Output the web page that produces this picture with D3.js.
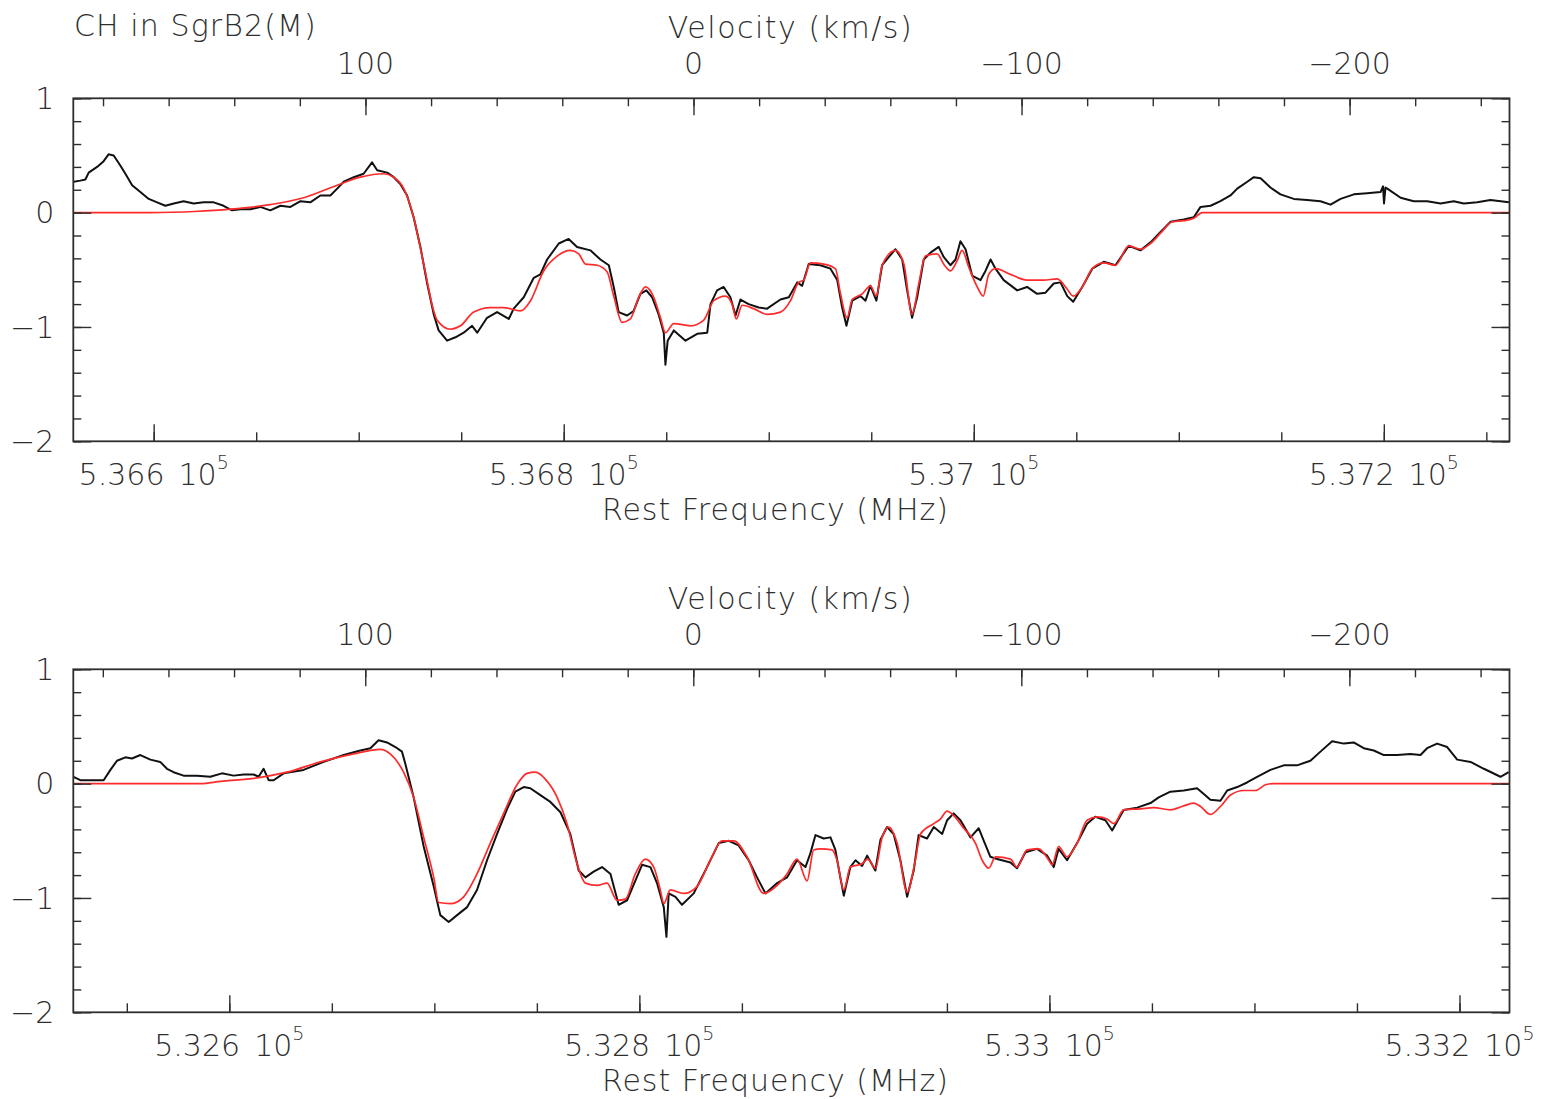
<!DOCTYPE html>
<html>
<head>
<meta charset="utf-8">
<script src="https://cdn.jsdelivr.net/npm/d3@7"></script>
<style>
  body { margin: 0; background: #fff; }
</style>
</head>
<body>
<svg id="chart" width="1550" height="1099"></svg>
<script>
// Observed spectrum (black) and model fit (red), [rest frequency MHz, intensity]
const upperObs = [[536561.0,0.27],[536564.2,0.28],[536566.7,0.29],[536568.3,0.35],[536572.4,0.40],[536575.6,0.45],[536578.0,0.51],[536580.5,0.50],[536583.8,0.41],[536586.2,0.34],[536589.5,0.24],[536593.5,0.18],[536597.6,0.12],[536601.7,0.09],[536605.7,0.06],[536609.8,0.08],[536614.6,0.10],[536619.5,0.08],[536624.4,0.09],[536629.3,0.09],[536634.1,0.06],[536638.2,0.02],[536642.3,0.03],[536647.2,0.03],[536652.0,0.05],[536656.9,0.02],[536661.8,0.06],[536666.7,0.05],[536671.6,0.10],[536676.4,0.09],[536681.3,0.15],[536686.2,0.15],[536689.5,0.21],[536692.7,0.27],[536697.6,0.31],[536702.4,0.34],[536706.5,0.44],[536709.0,0.37],[536713.9,0.35],[536717.1,0.31],[536720.3,0.25],[536723.6,0.15],[536726.8,-0.04],[536730.1,-0.30],[536733.4,-0.62],[536736.6,-0.89],[536739.0,-1.03],[536743.1,-1.12],[536747.2,-1.09],[536751.2,-1.05],[536755.3,-0.99],[536757.8,-1.05],[536762.6,-0.92],[536767.5,-0.87],[536773.2,-0.93],[536775.6,-0.84],[536780.5,-0.74],[536785.4,-0.57],[536788.6,-0.54],[536791.9,-0.41],[536797.6,-0.27],[536802.4,-0.23],[536806.5,-0.30],[536813.0,-0.33],[536817.9,-0.41],[536822.0,-0.46],[536824.4,-0.65],[536826.8,-0.87],[536830.9,-0.90],[536834.1,-0.86],[536837.4,-0.71],[536840.3,-0.68],[536843.1,-0.74],[536846.3,-0.89],[536848.8,-1.05],[536849.6,-1.33],[536850.7,-1.12],[536853.7,-1.03],[536859.4,-1.12],[536865.1,-1.06],[536870.0,-1.05],[536871.6,-0.80],[536874.8,-0.68],[536878.0,-0.65],[536881.3,-0.74],[536883.8,-0.90],[536886.2,-0.76],[536890.2,-0.80],[536895.1,-0.83],[536899.2,-0.84],[536905.7,-0.76],[536909.8,-0.74],[536913.9,-0.61],[536916.3,-0.64],[536919.5,-0.45],[536925.2,-0.46],[536930.1,-0.49],[536933.4,-0.59],[536935.8,-0.83],[536937.9,-0.99],[536940.7,-0.77],[536944.7,-0.73],[536947.2,-0.77],[536949.6,-0.64],[536952.5,-0.77],[536955.3,-0.46],[536958.5,-0.39],[536961.8,-0.32],[536965.1,-0.41],[536967.5,-0.68],[536969.9,-0.92],[536972.4,-0.74],[536975.6,-0.41],[536978.9,-0.35],[536982.9,-0.30],[536985.4,-0.39],[536988.6,-0.46],[536991.1,-0.41],[536993.5,-0.25],[536996.0,-0.32],[536999.2,-0.55],[537003.3,-0.59],[537005.7,-0.51],[537008.2,-0.41],[537010.6,-0.49],[537014.6,-0.59],[537021.2,-0.68],[537026.0,-0.65],[537030.9,-0.71],[537035.0,-0.70],[537039.0,-0.62],[537042.3,-0.61],[537045.6,-0.73],[537048.5,-0.78],[537052.9,-0.65],[537057.8,-0.49],[537063.4,-0.43],[537069.1,-0.46],[537075.6,-0.29],[537081.3,-0.33],[537086.2,-0.26],[537091.1,-0.17],[537096.0,-0.08],[537102.4,-0.06],[537107.3,-0.04],[537110.6,0.05],[537115.5,0.06],[537120.3,0.10],[537125.2,0.15],[537128.5,0.21],[537133.4,0.27],[537136.6,0.31],[537139.9,0.30],[537144.7,0.22],[537149.6,0.16],[537156.1,0.12],[537162.6,0.11],[537169.1,0.10],[537174.0,0.07],[537178.9,0.12],[537185.4,0.16],[537191.9,0.17],[537198.4,0.18],[537199.6,0.23],[537200.1,0.08],[537200.8,0.22],[537201.7,0.21],[537208.2,0.13],[537214.6,0.10],[537221.2,0.10],[537227.7,0.08],[537234.1,0.10],[537239.0,0.08],[537245.6,0.09],[537252.0,0.11],[537261.0,0.09]];

const upperFit = [[536560.8,0.0],[536598.4,0.0],[536620.0,0.01],[536637.4,0.03],[536656.9,0.07],[536673.2,0.13],[536689.5,0.24],[536700.8,0.31],[536712.2,0.34],[536717.1,0.31],[536722.0,0.21],[536726.8,-0.04],[536731.7,-0.45],[536736.6,-0.86],[536738.2,-0.94],[536744.7,-1.02],[536749.6,-0.99],[536756.1,-0.87],[536764.2,-0.83],[536770.7,-0.83],[536778.9,-0.86],[536783.8,-0.77],[536790.2,-0.51],[536796.8,-0.38],[536803.3,-0.33],[536807.3,-0.36],[536810.6,-0.45],[536816.3,-0.46],[536821.2,-0.52],[536824.4,-0.73],[536828.5,-0.96],[536832.5,-0.93],[536836.6,-0.74],[536839.9,-0.65],[536843.9,-0.74],[536847.2,-0.92],[536849.6,-1.05],[536853.7,-0.97],[536861.8,-0.99],[536868.3,-0.94],[536873.2,-0.77],[536878.9,-0.73],[536882.1,-0.80],[536884.2,-0.93],[536887.0,-0.81],[536892.7,-0.84],[536899.2,-0.89],[536905.7,-0.87],[536910.6,-0.77],[536914.6,-0.61],[536917.1,-0.59],[536920.3,-0.44],[536926.8,-0.45],[536932.5,-0.49],[536935.0,-0.71],[536938.2,-0.92],[536940.7,-0.76],[536945.6,-0.71],[536949.6,-0.64],[536952.5,-0.73],[536955.3,-0.46],[536961.8,-0.33],[536965.9,-0.45],[536969.9,-0.89],[536973.2,-0.62],[536976.4,-0.38],[536982.1,-0.36],[536985.7,-0.46],[536988.6,-0.51],[536991.9,-0.42],[536994.3,-0.33],[536997.6,-0.48],[537001.7,-0.65],[537004.6,-0.73],[537007.3,-0.54],[537010.6,-0.49],[537017.9,-0.54],[537026.0,-0.59],[537034.1,-0.59],[537040.7,-0.58],[537045.6,-0.67],[537048.5,-0.73],[537052.9,-0.65],[537057.8,-0.49],[537063.4,-0.44],[537069.1,-0.46],[537075.6,-0.29],[537081.3,-0.32],[537086.2,-0.27],[537091.1,-0.18],[537096.8,-0.08],[537102.4,-0.07],[537107.3,-0.05],[537111.4,0.0],[537261.3,0.0]];

const lowerObs = [[532524.0,0.06],[532527.3,0.03],[532532.2,0.03],[532538.7,0.03],[532542.0,0.12],[532545.2,0.20],[532549.3,0.23],[532552.5,0.22],[532556.6,0.25],[532561.5,0.21],[532566.3,0.19],[532569.6,0.13],[532572.8,0.10],[532577.7,0.07],[532584.2,0.07],[532590.7,0.06],[532596.4,0.09],[532602.1,0.07],[532607.0,0.08],[532611.9,0.08],[532614.3,0.06],[532616.7,0.13],[532619.2,0.03],[532621.6,0.03],[532626.5,0.09],[532636.2,0.12],[532646.0,0.19],[532655.8,0.25],[532663.9,0.29],[532668.8,0.31],[532672.8,0.38],[532676.9,0.36],[532681.0,0.32],[532684.2,0.28],[532685.9,0.17],[532689.9,-0.12],[532694.8,-0.55],[532699.7,-0.90],[532702.9,-1.15],[532707.0,-1.21],[532711.1,-1.15],[532716.0,-1.08],[532720.8,-0.93],[532725.7,-0.67],[532730.6,-0.44],[532735.5,-0.22],[532739.5,-0.07],[532743.6,-0.03],[532746.8,-0.04],[532751.7,-0.10],[532756.6,-0.16],[532761.5,-0.25],[532766.3,-0.44],[532770.4,-0.76],[532773.7,-0.82],[532777.7,-0.77],[532781.8,-0.73],[532785.9,-0.79],[532789.9,-1.06],[532794.0,-1.02],[532798.0,-0.85],[532801.3,-0.71],[532805.4,-0.73],[532808.6,-0.87],[532811.9,-1.08],[532813.2,-1.34],[532814.3,-0.96],[532817.6,-0.99],[532820.8,-1.06],[532826.5,-0.96],[532833.0,-0.73],[532838.7,-0.52],[532843.6,-0.50],[532848.4,-0.54],[532853.3,-0.67],[532857.4,-0.82],[532861.5,-0.96],[532867.2,-0.87],[532872.0,-0.82],[532876.9,-0.67],[532881.0,-0.73],[532883.4,-0.61],[532885.9,-0.45],[532889.9,-0.48],[532893.2,-0.47],[532895.6,-0.58],[532898.0,-0.82],[532899.7,-0.98],[532902.9,-0.73],[532905.4,-0.67],[532908.6,-0.72],[532911.1,-0.63],[532915.1,-0.76],[532917.6,-0.49],[532920.8,-0.38],[532924.0,-0.44],[532927.3,-0.67],[532930.6,-0.99],[532933.8,-0.76],[532936.2,-0.45],[532940.3,-0.48],[532943.6,-0.38],[532947.7,-0.44],[532950.1,-0.32],[532953.3,-0.26],[532956.6,-0.32],[532961.5,-0.47],[532965.5,-0.39],[532968.0,-0.50],[532971.2,-0.64],[532974.5,-0.66],[532981.0,-0.69],[532984.2,-0.74],[532988.3,-0.60],[532994.0,-0.57],[532998.9,-0.63],[533002.1,-0.73],[533004.5,-0.57],[533008.6,-0.67],[533013.5,-0.52],[533018.4,-0.35],[533022.4,-0.29],[533027.3,-0.32],[533030.6,-0.41],[533036.2,-0.23],[533042.8,-0.21],[533049.3,-0.17],[533053.3,-0.12],[533059.0,-0.07],[533065.5,-0.06],[533072.0,-0.04],[533075.3,-0.09],[533078.5,-0.14],[533083.4,-0.15],[533086.7,-0.06],[533091.6,-0.03],[533096.4,0.01],[533101.3,0.06],[533107.8,0.12],[533114.3,0.16],[533120.8,0.16],[533127.3,0.20],[533132.2,0.28],[533137.9,0.37],[533143.6,0.35],[533148.4,0.36],[533153.3,0.31],[533158.2,0.29],[533163.1,0.25],[533169.6,0.25],[533176.1,0.26],[533181.0,0.25],[533184.2,0.31],[533189.1,0.35],[533194.0,0.32],[533198.9,0.21],[533205.4,0.19],[533211.9,0.13],[533220.0,0.06],[533224.0,0.10]];

const lowerFit = [[532523.9,0.0],[532585.9,0.0],[532595.6,0.02],[532613.5,0.05],[532628.1,0.10],[532644.4,0.19],[532660.6,0.26],[532673.7,0.30],[532678.5,0.26],[532685.0,0.10],[532689.9,-0.12],[532694.8,-0.47],[532699.7,-0.82],[532702.1,-1.04],[532707.8,-1.05],[532714.3,-0.99],[532720.8,-0.79],[532727.3,-0.52],[532733.8,-0.26],[532740.3,-0.01],[532745.2,0.09],[532749.3,0.10],[532754.1,0.04],[532759.9,-0.12],[532764.7,-0.35],[532769.6,-0.70],[532773.7,-0.87],[532779.4,-0.89],[532784.2,-0.87],[532789.1,-1.02],[532793.2,-1.01],[532798.0,-0.79],[532802.9,-0.66],[532807.0,-0.73],[532810.2,-0.93],[532811.9,-1.05],[532815.1,-0.93],[532821.6,-0.96],[532828.1,-0.90],[532834.6,-0.67],[532840.3,-0.50],[532846.0,-0.50],[532852.5,-0.64],[532860.6,-0.96],[532867.2,-0.89],[532872.0,-0.79],[532876.9,-0.66],[532881.8,-0.85],[532885.0,-0.58],[532888.3,-0.57],[532894.0,-0.58],[532896.4,-0.67],[532899.7,-0.93],[532902.9,-0.73],[532908.6,-0.70],[532911.4,-0.66],[532915.1,-0.74],[532918.4,-0.47],[532921.6,-0.38],[532925.7,-0.52],[532930.6,-0.95],[532934.6,-0.67],[532937.1,-0.44],[532943.6,-0.35],[532946.8,-0.31],[532950.1,-0.24],[532953.3,-0.28],[532958.2,-0.39],[532963.9,-0.52],[532967.2,-0.67],[532970.4,-0.74],[532973.7,-0.64],[532981.0,-0.66],[532984.2,-0.73],[532989.1,-0.58],[532994.8,-0.57],[532999.7,-0.67],[533001.3,-0.71],[533004.5,-0.55],[533008.6,-0.64],[533013.5,-0.52],[533018.4,-0.32],[533023.3,-0.29],[533028.1,-0.31],[533031.4,-0.35],[533036.2,-0.23],[533044.4,-0.22],[533050.9,-0.21],[533059.0,-0.23],[533064.7,-0.20],[533070.4,-0.17],[533073.7,-0.20],[533078.5,-0.27],[533083.4,-0.20],[533088.3,-0.10],[533094.8,-0.06],[533100.5,-0.06],[533105.4,-0.01],[533109.4,0.0],[533224.4,0.0]];

// axis ranges and labelled ticks
const upperFreqRange = [536560.8, 537261.3];
const lowerFreqRange = [532523.9, 533224.4];
const upperRestFreq = 536863.3;   // 0 km/s
const lowerRestFreq = 532826.3;
const kmsPerMHz = 0.625;
const upperFreqTicks = [536600, 536800, 537000, 537200];
const upperFreqLabels = ['5.366', '5.368', '5.37', '5.372'];
const lowerFreqTicks = [532600, 532800, 533000, 533200];
const lowerFreqLabels = ['5.326', '5.328', '5.33', '5.332'];
const velTicks = [100, 0, -100, -200];
const velLabels = ['100', '0', '\u2212100', '\u2212200'];
const yTicks = [1, 0, -1, -2];
const yLabels = ['1', '0', '\u22121', '\u22122'];

const panels = [
  { obs: upperObs, fit: upperFit, range: upperFreqRange, rest: upperRestFreq, fTicks: upperFreqTicks, fLabels: upperFreqLabels },
  { obs: lowerObs, fit: lowerFit, range: lowerFreqRange, rest: lowerRestFreq, fTicks: lowerFreqTicks, fLabels: lowerFreqLabels }
];

const plotLeft = 73.3, plotW = 1436.2, panelH = 343;
const panelTops = [98.3, 669.3];
const font = "'DejaVu Sans', sans-serif";
const ink = '#2e2e2e';

const svg = d3.select('#chart');

svg.append('text')
  .attr('x', 74).attr('y', 36)
  .attr('font-family', font).attr('font-size', 30).attr('font-weight', 300)
  .attr('letter-spacing', 1.1)
  .attr('fill', ink)
  .text('CH in SgrB2(M)');

panels.forEach((p, i) => {
  const g = svg.append('g').attr('transform', `translate(${plotLeft},${panelTops[i]})`);

  const x = d3.scaleLinear().domain(p.range).range([0, plotW]);
  const v = d3.scaleLinear()
    .domain(p.range.map(f => (p.rest - f) * kmsPerMHz))
    .range([0, plotW]);
  const y = d3.scaleLinear().domain([-2, 1]).range([panelH, 0]);

  const clipId = 'clip' + i;
  g.append('clipPath').attr('id', clipId)
    .append('rect').attr('width', plotW).attr('height', panelH);

  const line = d3.line().x(d => x(d[0])).y(d => y(d[1]));

  g.append('path')
    .datum(p.obs)
    .attr('clip-path', `url(#${clipId})`)
    .attr('fill', 'none')
    .attr('stroke', '#111')
    .attr('stroke-width', 2)
    .attr('stroke-linejoin', 'round')
    .attr('d', line);

  g.append('path')
    .datum(p.fit)
    .attr('clip-path', `url(#${clipId})`)
    .attr('fill', 'none')
    .attr('stroke', '#ff2a2a')
    .attr('stroke-width', 1.7)
    .attr('d', line.curve(d3.curveMonotoneX));

  // ticks drawn inward, PGPLOT style
  const ticks = (axis, vals, size) => axis.tickValues(vals).tickSize(size).tickSizeOuter(0).tickFormat('');
  const styleAxis = sel => {
    sel.select('.domain').remove();
    sel.selectAll('line').attr('stroke', ink).attr('stroke-width', 1.4);
  };

  const fMinor = d3.range(Math.ceil(p.range[0] / 50) * 50, p.range[1], 50);
  const vMinor = d3.range(-240, 181, 20);
  const yMinor = d3.range(-2, 1.001, 0.2).map(d => +d.toFixed(1));

  const bottom = g.append('g').attr('transform', `translate(0,${panelH})`);
  bottom.append('g').call(ticks(d3.axisBottom(x), fMinor, -9)).call(styleAxis);
  bottom.append('g').call(ticks(d3.axisBottom(x), p.fTicks, -17)).call(styleAxis);

  g.append('g').call(ticks(d3.axisTop(v), vMinor, -8)).call(styleAxis);
  g.append('g').call(ticks(d3.axisTop(v), velTicks, -17)).call(styleAxis);

  g.append('g').call(ticks(d3.axisLeft(y), yMinor, -8)).call(styleAxis);
  g.append('g').call(ticks(d3.axisLeft(y), yTicks, -18)).call(styleAxis);
  const right = g.append('g').attr('transform', `translate(${plotW},0)`);
  right.append('g').call(ticks(d3.axisRight(y), yMinor, -8)).call(styleAxis);
  right.append('g').call(ticks(d3.axisRight(y), yTicks, -18)).call(styleAxis);

  g.append('rect')
    .attr('width', plotW).attr('height', panelH)
    .attr('fill', 'none').attr('stroke', ink).attr('stroke-width', 1.8);

  const txt = sel => sel.attr('font-family', font).attr('font-weight', 300).attr('fill', ink);

  // frequency labels, e.g. "5.366 10^5"
  const fl = g.selectAll('.flab').data(p.fTicks).enter().append('text')
    .attr('class', 'flab')
    .attr('x', d => x(d)).attr('y', panelH + 44)
    .attr('text-anchor', 'middle').attr('font-size', 30)
    .call(txt);
  fl.append('tspan').text((d, k) => p.fLabels[k]);
  fl.append('tspan').attr('dx', 14).text('10');
  fl.append('tspan').attr('dy', -16).attr('font-size', 19).text('5');

  g.selectAll('.vlab').data(velTicks).enter().append('text')
    .attr('x', d => v(d)).attr('y', -24)
    .attr('text-anchor', 'middle').attr('font-size', 30)
    .call(txt)
    .text((d, k) => velLabels[k]);

  g.selectAll('.ylab').data(yTicks).enter().append('text')
    .attr('x', -19).attr('y', d => y(d)).attr('dy', '0.36em')
    .attr('text-anchor', 'end').attr('font-size', 30)
    .call(txt)
    .text((d, k) => yLabels[k]);

  g.append('text')
    .attr('x', plotW / 2 - 1).attr('y', -60)
    .attr('text-anchor', 'middle').attr('font-size', 30)
    .attr('letter-spacing', 1.5)
    .call(txt)
    .text('Velocity (km/s)');

  g.append('text')
    .attr('x', plotW / 2 - 16).attr('y', panelH + 79)
    .attr('text-anchor', 'middle').attr('font-size', 30)
    .attr('letter-spacing', 1)
    .call(txt)
    .text('Rest Frequency (MHz)');
});
</script>
</body>
</html>
